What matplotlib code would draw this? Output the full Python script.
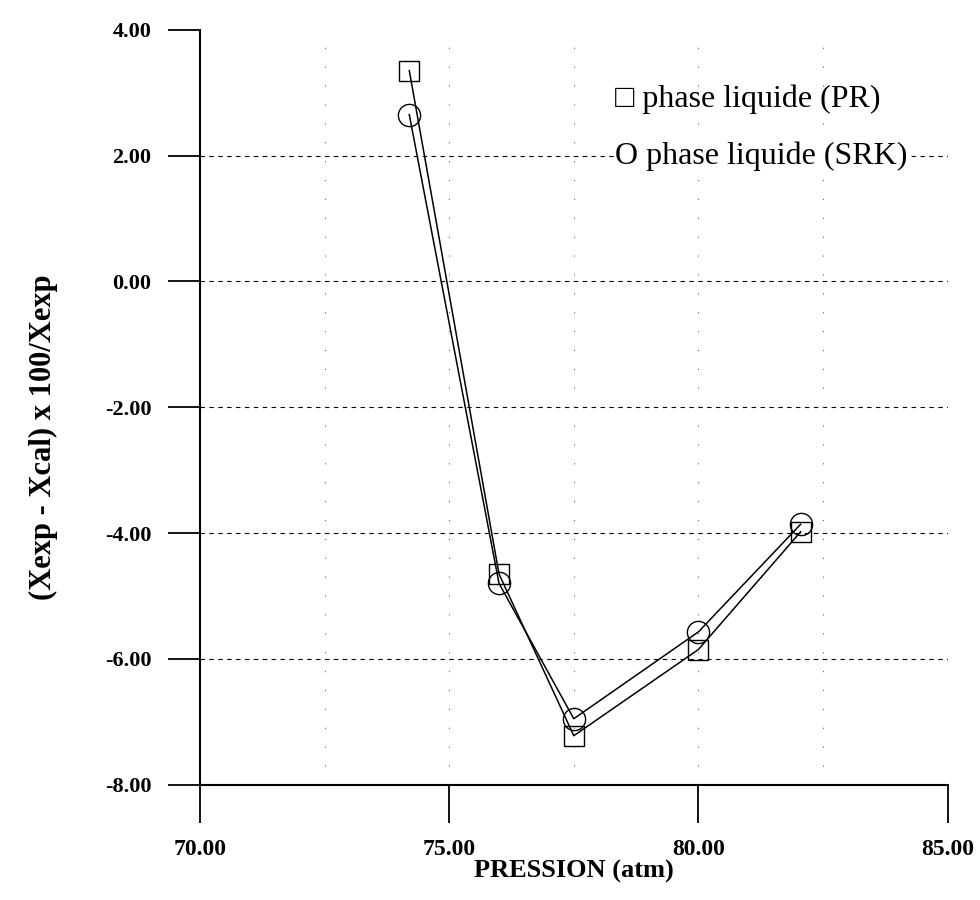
import matplotlib
matplotlib.use("Agg")
import matplotlib.pyplot as plt

# pressure (atm) and relative deviation (%)
pression = [74.2, 76.0, 77.5, 80.0, 82.05]
ecart_pr = [3.35, -4.65, -7.22, -5.85, -3.98]
ecart_srk = [2.65, -4.8, -6.95, -5.57, -3.86]

xticks = [70, 75, 80, 85]
yticks = [4, 2, 0, -2, -4, -6, -8]
xgrid = [72.5, 75, 77.5, 80, 82.5, 85]
ygrid = [2, 0, -2, -4, -6]

SERIF = ["Liberation Serif", "DejaVu Serif"]
plt.rcParams["font.family"] = SERIF

fig = plt.figure(figsize=(9.8, 9.0), dpi=100)
ax = fig.add_axes([0.204, 0.128, 0.763, 0.839])

for y in ygrid:
    ax.axhline(y, color="black", lw=0.8, ls=(0, (4, 4)), zorder=1)
for x in xgrid:
    ax.axvline(x, color="0.4", lw=0.8, ls=(0, (1, 16)), zorder=1)

ax.plot(pression, ecart_pr, color="black", lw=1.1, marker="s", ms=14,
        mfc="none", mec="black", mew=1.0, zorder=3)
ax.plot(pression, ecart_srk, color="black", lw=1.1, marker="o", ms=16,
        mfc="none", mec="black", mew=1.0, zorder=3)

ax.set_xlim(70, 85)
ax.set_ylim(-8, 4)
ax.set_xticks(xticks)
ax.set_yticks(yticks)
ax.set_xticklabels([f"{v:.2f}" for v in xticks], fontsize=17, fontweight="bold")
ax.set_yticklabels([f"{v:.2f}" for v in yticks], fontsize=16, fontweight="bold")
ax.tick_params(axis="x", direction="out", length=27, width=1.3, pad=12)
ax.tick_params(axis="y", direction="out", length=23, width=1.3, pad=12)

for s in ["top", "right"]:
    ax.spines[s].set_visible(False)
ax.spines["left"].set_linewidth(1.5)
ax.spines["bottom"].set_linewidth(1.5)

ax.set_xlabel("PRESSION (atm)", fontsize=19, fontweight="bold", labelpad=0)
ax.set_ylabel("(Xexp - Xcal) x 100/Xexp", fontsize=22, fontweight="bold")
ax.yaxis.set_label_coords(-0.19, 0.46)

ax.text(0.555, 0.908, "\u25a1 phase liquide (PR)", transform=ax.transAxes,
        fontsize=23, family=SERIF, va="center", ha="left")
ax.text(0.555, 0.833, "O phase liquide (SRK)", transform=ax.transAxes,
        fontsize=23, family=SERIF, va="center", ha="left",
        bbox=dict(facecolor="white", edgecolor="none", pad=1))

fig.savefig("out.png", dpi=100)
